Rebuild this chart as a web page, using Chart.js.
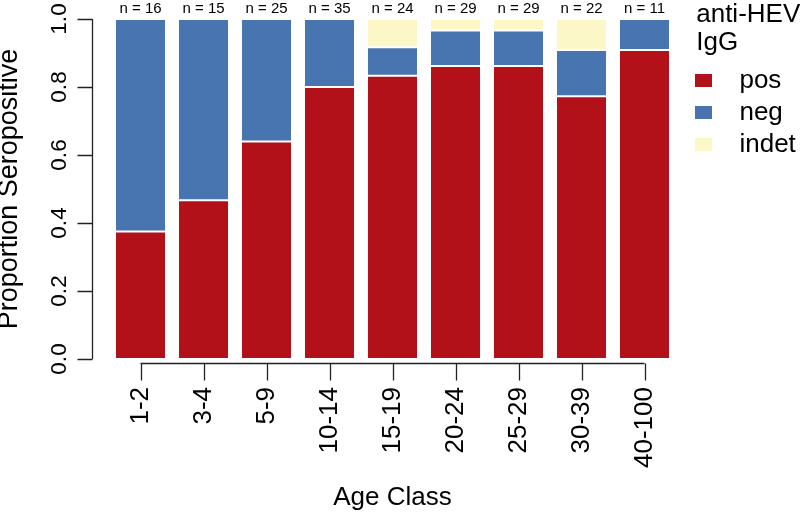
<!DOCTYPE html>
<html>
<head>
<meta charset="utf-8">
<script src="https://cdn.jsdelivr.net/npm/chart.js@4/dist/chart.umd.min.js"></script>
<style>
  html, body { margin: 0; padding: 0; background: #fff; }
  #wrap { width: 800px; height: 513px; }
</style>
</head>
<body>
<div id="wrap"><canvas id="seroChart" width="800" height="513"></canvas></div>
<script>
// data
const ageClasses = ['1-2', '3-4', '5-9', '10-14', '15-19', '20-24', '25-29', '30-39', '40-100'];
const sampleSizes = [16, 15, 25, 35, 24, 29, 29, 22, 11];
const posShare = [0.375, 0.467, 0.64, 0.8, 0.833, 0.862, 0.862, 0.773, 0.909];
const negShare = [0.625, 0.533, 0.36, 0.2, 0.084, 0.104, 0.104, 0.136, 0.091];
const indetShare = [0, 0, 0, 0, 0.083, 0.034, 0.034, 0.091, 0];
const yTickStep = 0.2;

const nLabels = sampleSizes.map(n => 'n = ' + n);

Chart.defaults.font.family = '"Liberation Sans", Arial, Helvetica, sans-serif';
Chart.defaults.color = '#111';

// R-style axes: detached y axis line and x axis line running tick to tick
const rAxes = {
    id: 'rAxes',
    afterDraw(chart) {
        const { ctx, chartArea, scales: { x, y } } = chart;
        ctx.save();
        ctx.strokeStyle = '#222';
        ctx.lineWidth = 1.3;
        ctx.beginPath();
        // y axis
        const ax = Math.round(chartArea.left - 17) + 0.5;
        ctx.moveTo(ax, y.getPixelForValue(1));
        ctx.lineTo(ax, y.getPixelForValue(0));
        y.ticks.forEach(t => {
            const py = Math.round(y.getPixelForValue(t.value)) + 0.5;
            ctx.moveTo(ax, py);
            ctx.lineTo(ax - 15, py);
        });
        // x axis
        const ay = Math.round(chartArea.bottom + 4) + 0.5;
        ctx.moveTo(x.getPixelForTick(0), ay);
        ctx.lineTo(x.getPixelForTick(ageClasses.length - 1), ay);
        ageClasses.forEach((c, i) => {
            const px = Math.round(x.getPixelForTick(i)) + 0.5;
            ctx.moveTo(px, ay);
            ctx.lineTo(px, ay + 17);
        });
        ctx.stroke();
        ctx.restore();
    }
};

// keep rotated tick labels from pushing the plot area around
function noPad(scale) {
    scale.paddingTop = 0;
    scale.paddingBottom = 0;
    scale.paddingLeft = 0;
    scale.paddingRight = 0;
}

const barStyle = { borderColor: '#ffffff', borderWidth: 1, borderSkipped: false, barPercentage: 0.81, categoryPercentage: 1 };

new Chart(document.getElementById('seroChart'), {
    type: 'bar',
    data: {
        labels: ageClasses,
        datasets: [
            { label: 'pos', data: posShare, backgroundColor: '#b3111a', ...barStyle },
            { label: 'neg', data: negShare, backgroundColor: '#4875b0', ...barStyle },
            { label: 'indet', data: indetShare, backgroundColor: '#fcf7c6', ...barStyle }
        ]
    },
    options: {
        responsive: false,
        animation: false,
        layout: { padding: 0 },
        plugins: {
            tooltip: { enabled: false },
            legend: {
                position: 'right',
                align: 'start',
                maxWidth: 111,
                title: {
                    display: true,
                    text: [' anti-HEV', ' IgG'],
                    position: 'start',
                    color: '#000',
                    font: { size: 26, lineHeight: 1.077 },
                    padding: { top: 2, bottom: 31.5 }
                },
                labels: {
                    color: '#000',
                    font: { size: 26 },
                    boxWidth: 17,
                    boxHeight: 13,
                    padding: 6,
                    generateLabels(chart) {
                        return Chart.defaults.plugins.legend.labels.generateLabels(chart)
                            .map(item => ({ ...item, text: '  ' + item.text, lineWidth: 0 }));
                    }
                }
            }
        },
        scales: {
            x: {
                stacked: true,
                grid: { display: false, drawTicks: false },
                border: { display: false },
                ticks: {
                    autoSkip: false,
                    minRotation: 90,
                    maxRotation: 90,
                    padding: 28,
                    color: '#000',
                    font: { size: 26 }
                },
                title: {
                    display: true,
                    text: 'Age Class',
                    color: '#000',
                    font: { size: 26, lineHeight: 1.2 },
                    padding: { top: 0, bottom: 0 }
                },
                afterFit(scale) { scale.height = 154; noPad(scale); }
            },
            xTop: {
                type: 'category',
                position: 'top',
                labels: nLabels,
                offset: true,
                grid: { display: false, drawTicks: false },
                border: { display: false },
                ticks: { autoSkip: false, maxRotation: 0, padding: 1, color: '#000', font: { size: 15 } },
                afterFit(scale) { scale.height = 19; noPad(scale); }
            },
            y: {
                stacked: true,
                min: 0,
                max: 1,
                grid: { display: false, drawTicks: false },
                border: { display: false },
                ticks: {
                    stepSize: yTickStep,
                    minRotation: 90,
                    maxRotation: 90,
                    crossAlign: 'center',
                    padding: 34,
                    color: '#000',
                    font: { size: 22.5 },
                    callback: v => Number(v).toFixed(1)
                },
                title: {
                    display: true,
                    text: 'Proportion Seropositive',
                    color: '#000',
                    font: { size: 27, lineHeight: 0.72 },
                    padding: { top: 0, bottom: 0 }
                },
                afterFit(scale) { scale.width = 109; noPad(scale); }
            },
            gap: {
                type: 'linear',
                position: 'right',
                grid: { display: false, drawTicks: false },
                border: { display: false },
                ticks: { display: false },
                afterFit(scale) { scale.width = 13; noPad(scale); }
            }
        }
    },
    plugins: [rAxes]
});
</script>
</body>
</html>
